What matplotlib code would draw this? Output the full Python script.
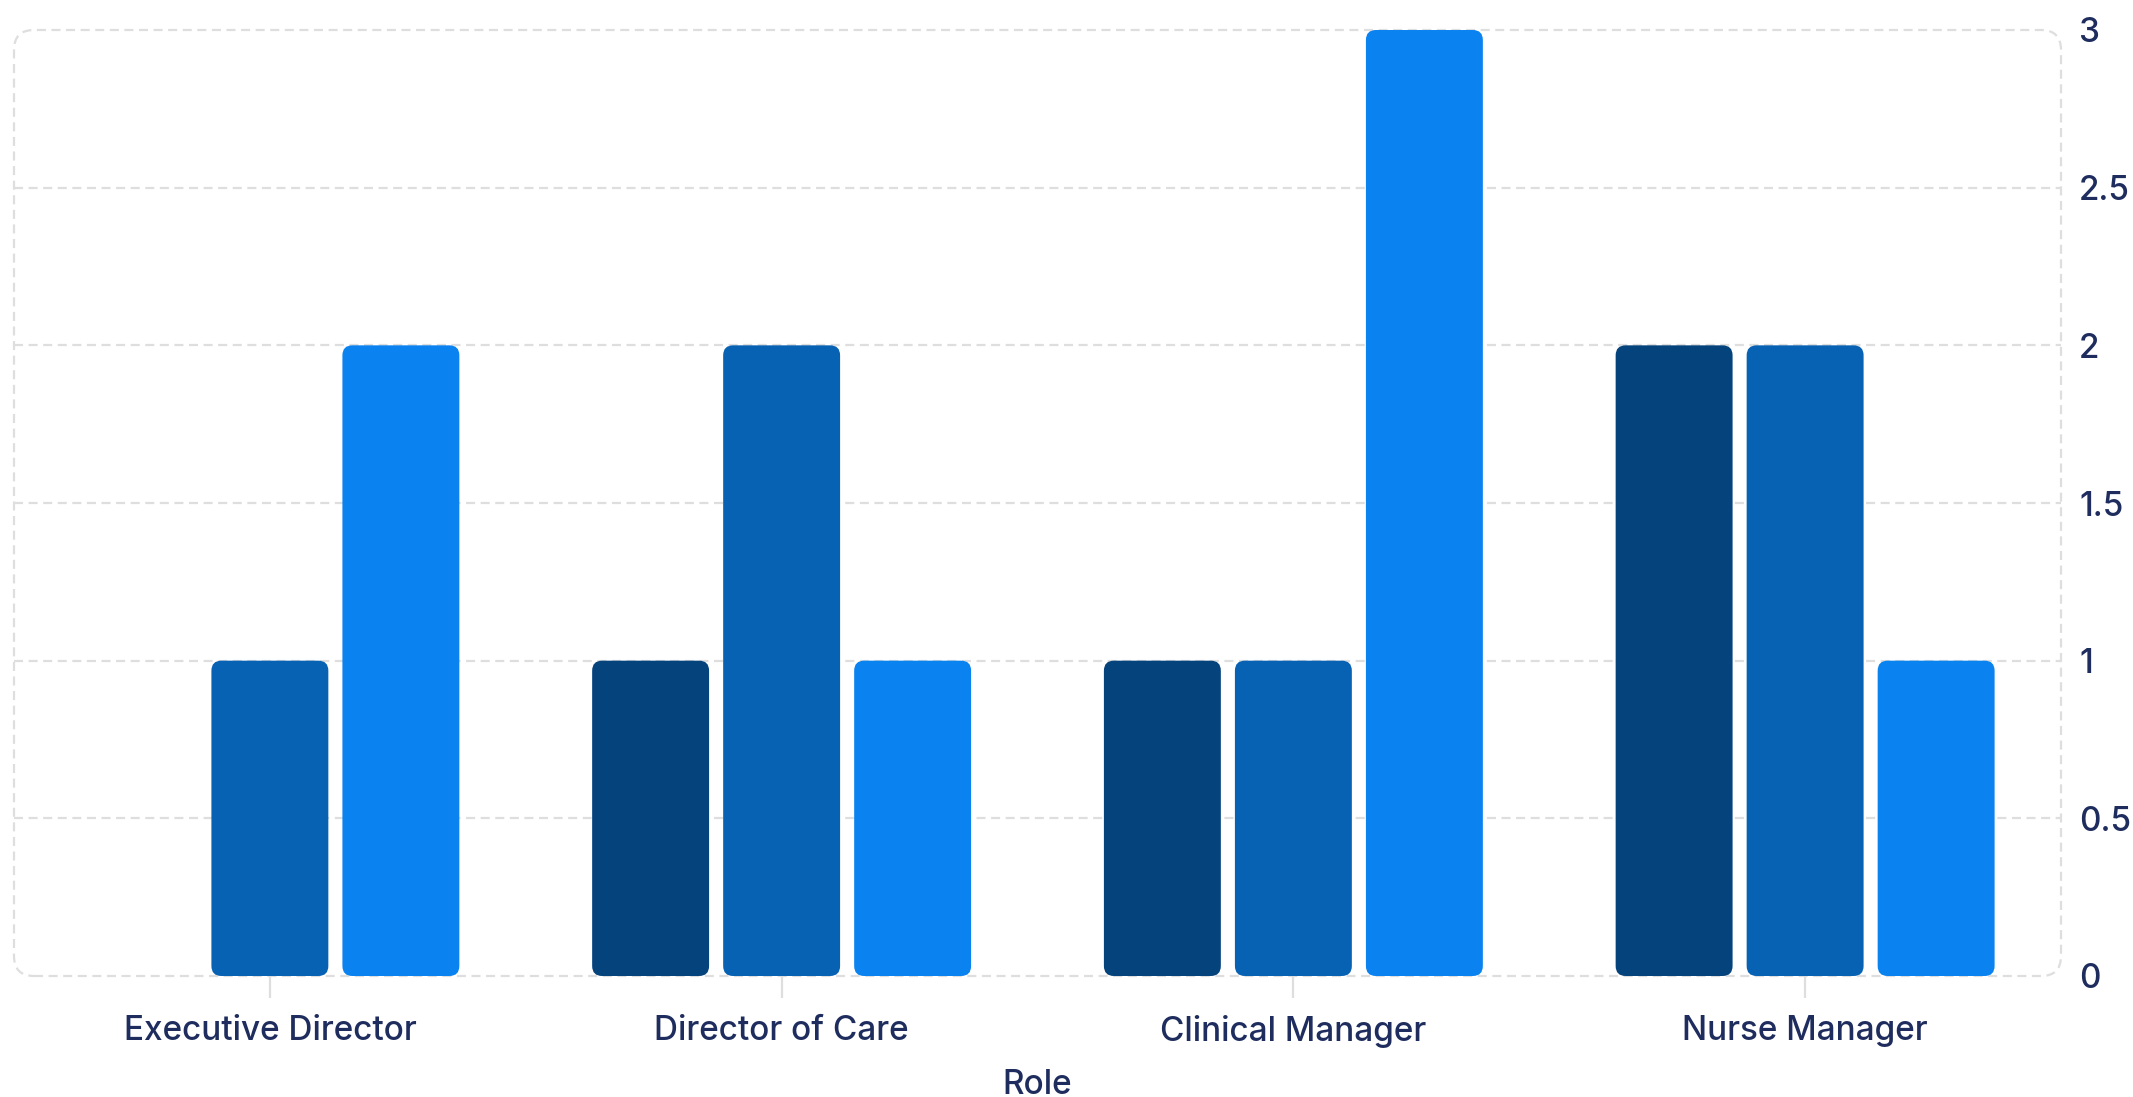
import matplotlib
matplotlib.use("Agg")
import matplotlib.pyplot as plt
from matplotlib.patches import FancyBboxPatch
from matplotlib.transforms import IdentityTransform
import numpy as np

plt.rcParams['font.family'] = ['Inter', 'DejaVu Sans']
plt.rcParams['font.weight'] = 'medium'
plt.rcParams['axes.labelweight'] = 'medium'

# ---- data ----
roles = ["Executive Director", "Director of Care", "Clinical Manager", "Nurse Manager"]
series_names = ["Series 1", "Series 2", "Series 3"]
series_1 = [0, 1, 1, 2]
series_2 = [1, 2, 1, 2]
series_3 = [2, 1, 3, 1]
y_ticks = [0, 0.5, 1, 1.5, 2, 2.5, 3]
y_tick_labels = ["0", "0.5", "1", "1.5", "2", "2.5", "3"]
x_label = "Role"

colors = ["#05437D", "#0862B3", "#0A82F0"]
text_color = "#1E2D5E"
grid_color = "#DEDEDE"

W, H, DPI = 2133, 1097, 100
fig = plt.figure(figsize=(W / DPI, H / DPI), dpi=DPI)
L, R, B, T = 14, 2061, 976, 30  # pixel box of plot area
ax = fig.add_axes([L / W, 1 - B / H, (R - L) / W, (B - T) / H])

x = np.arange(len(roles))
width = 0.2285
offset = 0.256
all_series = [series_1, series_2, series_3]

ax.set_xlim(-0.5, len(roles) - 0.5)
ax.set_ylim(0, 3)

# pixel scale for rounded corners
px_per_x = (R - L) / 4.0
px_per_y = (B - T) / 3.0
radius_px = 10
rs = radius_px / px_per_x
aspect = px_per_x / px_per_y

for i, vals in enumerate(all_series):
    bars = ax.bar(x + (i - 1) * offset, vals, width=width, color=colors[i],
                  label=series_names[i], zorder=3)
    for b in bars:
        b.set_visible(False)
        h = b.get_height()
        if h <= 0:
            continue
        p = FancyBboxPatch((b.get_x(), b.get_y()), b.get_width(), h,
                           boxstyle=f"round,pad=0,rounding_size={rs}",
                           mutation_aspect=aspect,
                           facecolor=colors[i], edgecolor="none", zorder=3)
        ax.add_patch(p)

# grid
lw = 1.6
ax.set_yticks(y_ticks)
ax.set_yticklabels(y_tick_labels)
for yv in y_ticks[1:-1]:
    ax.axhline(yv, color=grid_color, lw=lw, linestyle=(0, (6.5 / lw, 4 / lw)), zorder=1)

for s in ax.spines.values():
    s.set_visible(False)

# rounded dashed frame in pixel coordinates
frame = FancyBboxPatch((L, H - B), R - L, B - T,
                       boxstyle="round,pad=0,rounding_size=20",
                       transform=IdentityTransform(),
                       facecolor="none", edgecolor=grid_color, lw=lw,
                       linestyle=(0, (6.5 / lw, 4 / lw)), zorder=0)
fig.add_artist(frame)

fs = 24
ax.set_xticks(x)
ax.set_xticklabels(roles)
ax.yaxis.tick_right()
ax.tick_params(axis='y', length=0, pad=13, labelsize=fs, labelcolor=text_color)
ax.tick_params(axis='x', length=16, width=lw, color=grid_color, pad=12,
               labelsize=fs, labelcolor=text_color)
for t in ax.xaxis.get_ticklines():
    t.set_linestyle((0, (6.5 / lw, 4 / lw)))

ax.set_xlabel(x_label, fontsize=fs, color=text_color, labelpad=15)
ax.set_facecolor("none")

fig.savefig("out.png", dpi=DPI)
